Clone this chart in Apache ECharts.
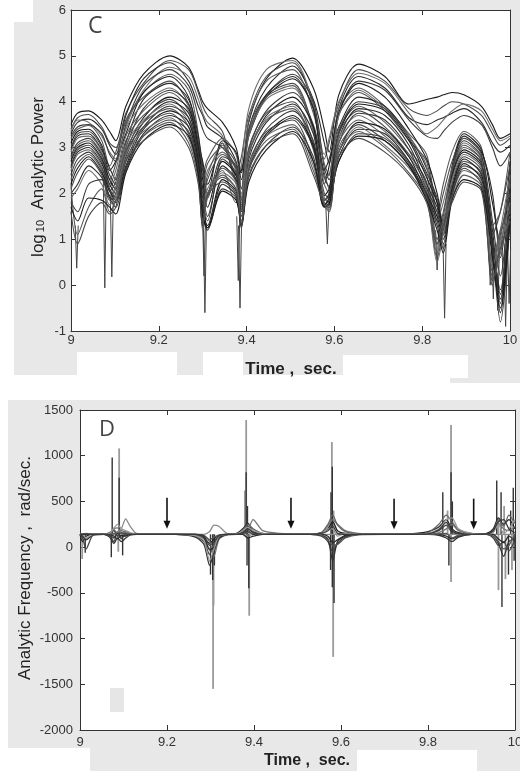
<!DOCTYPE html>
<html><head><meta charset="utf-8">
<script src="https://cdn.jsdelivr.net/npm/echarts@6/dist/echarts.min.js"></script>
<style>html,body{margin:0;padding:0;background:#fff;}#c{width:520px;height:771px;}</style>
</head><body><div id="c"></div>
<script>
// ---------- Panel C : log10 analytic power ----------
const timeC = [9.000, 9.015, 9.040, 9.070, 9.088, 9.102,
  9.125, 9.165, 9.225, 9.268, 9.290,
  9.300, 9.311, 9.345, 9.376, 9.388,
  9.405, 9.445, 9.505, 9.552, 9.577, 9.588,
  9.610, 9.655, 9.715, 9.770, 9.810, 9.834, 9.848,
  9.868, 9.895, 9.935, 9.960, 9.978, 10.000];
const powerLines = [
  [3.50,3.75,3.80,3.60,3.35,3.15, 3.90,4.60,5.00,4.75,4.25, 4.00,3.85,3.55,3.00,2.45, 3.55,4.50,4.95,4.30,3.40,2.90, 4.15,4.82,4.55,3.95,4.05,4.10,4.15, 4.20,4.15,3.90,3.50,3.20,3.30],
  [3.40,3.65,3.72,3.45,3.10,3.00, 3.75,4.40,4.90,4.70,4.20, 3.90,3.70,3.35,2.40,2.80, 3.70,4.55,4.85,3.90,2.75,3.10, 3.95,4.70,4.45,3.85,3.70,3.80,3.90, 4.00,3.95,3.70,3.30,3.05,3.20],
  [3.30,3.55,3.62,3.40,3.05,2.85, 3.70,4.50,4.85,4.45,3.90, 3.70,3.45,3.20,2.70,2.10, 3.40,4.30,4.78,4.05,3.10,2.65, 3.85,4.55,4.30,3.65,3.50,3.60,3.65, 3.75,3.85,3.55,3.10,2.90,3.05],
  [3.35,3.60,3.55,3.25,2.90,2.75, 3.45,4.25,4.75,4.55,4.05, 3.75,3.55,3.25,2.30,2.60, 3.85,4.70,4.90,3.95,2.85,3.20, 4.00,4.62,4.40,3.75,3.30,3.45,3.60, 3.80,3.95,3.80,3.40,3.15,3.25],
  [3.25,3.45,3.50,3.30,2.85,2.70, 3.50,4.35,4.70,4.35,3.70, 3.40,3.20,3.00,2.55,1.85, 3.30,4.15,4.60,4.00,2.55,2.30, 3.75,4.45,4.25,3.60,3.25,3.20,3.35, 3.55,3.70,3.50,3.00,2.60,2.90],
  [3.20,3.40,3.48,3.15,2.60,2.90, 3.55,4.20,4.60,4.25,3.30, 2.40,2.75,3.20,2.85,2.10, 3.60,4.45,4.70,3.75,2.65,2.40, 3.85,4.30,3.90,3.30,2.85,1.60,2.20, 2.90,3.35,3.00,1.30,1.60,2.90],
  [3.10,3.35,3.40,3.05,2.50,2.70, 3.30,4.20,4.55,4.10,3.10, 2.70,2.20,3.10,2.40,2.50, 3.25,4.10,4.50,3.85,2.20,2.60, 3.75,4.40,4.10,3.40,2.75,2.00,1.30, 2.60,3.30,2.95,1.80,0.90,2.70],
  [3.00,3.30,3.35,3.00,2.30,2.65, 3.60,4.10,4.45,3.95,3.05, 2.10,2.65,3.00,2.65,1.85, 3.40,4.15,4.40,3.45,2.45,2.10, 3.70,4.20,3.80,3.15,2.70,1.50,2.00, 2.70,3.20,2.85,1.10,1.60,2.60],
  [2.95,3.25,3.30,2.95,2.55,2.30, 3.10,4.05,4.40,4.05,3.25, 2.60,2.00,3.15,2.90,2.30, 3.30,4.15,4.55,3.85,2.50,2.75, 3.45,4.10,3.90,3.25,2.55,1.80,1.10, 2.50,3.25,2.90,2.00,0.60,2.50],
  [2.90,3.20,3.25,2.90,2.20,2.50, 3.40,3.95,4.30,3.90,2.95, 2.00,2.50,2.90,2.50,1.80, 3.25,4.05,4.30,3.35,2.20,2.00, 3.70,4.25,3.85,3.25,2.60,1.40,1.80, 2.55,3.10,2.75,0.40,1.20,2.40],
  [2.80,3.10,3.20,2.85,2.40,2.20, 3.00,3.85,4.25,3.95,3.10, 2.50,1.90,2.80,2.60,1.70, 2.95,3.80,4.20,3.50,2.35,2.15, 3.35,4.00,3.85,3.20,2.45,1.90,1.20, 2.50,3.15,2.80,1.40,0.20,2.30],
  [2.75,3.05,3.15,2.80,2.15,2.35, 3.25,3.80,4.20,3.80,2.90, 1.80,2.40,3.05,2.30,2.00, 3.30,4.10,4.35,3.40,2.35,2.40, 3.40,3.90,3.55,2.95,2.40,1.00,1.60, 2.45,3.00,2.70,0.00,1.00,2.20],
  [2.70,3.00,3.10,2.75,2.30,2.10, 2.90,3.65,4.10,3.85,3.00, 2.30,1.70,2.70,2.40,1.60, 2.85,3.70,4.10,3.45,1.95,2.10, 3.30,3.95,3.80,3.15,2.35,1.80,1.30, 2.40,2.95,2.65,1.00,-0.20,2.10],
  [2.60,2.95,3.05,2.70,2.05,2.25, 3.15,3.70,4.05,3.65,2.75, 1.60,2.30,2.85,2.55,1.75, 3.00,3.75,4.00,3.10,2.00,1.90, 3.30,3.80,3.45,2.85,2.25,0.90,1.50, 2.50,3.05,2.70,0.30,1.10,2.00],
  [2.55,2.90,3.00,2.65,2.20,2.00, 2.80,3.55,4.00,3.75,2.85, 2.10,1.50,2.60,2.30,1.50, 2.75,3.55,3.95,3.30,1.85,2.00, 3.20,3.85,3.70,3.05,2.20,1.70,1.20, 2.35,2.90,2.60,1.20,-0.40,1.90],
  [2.50,2.85,2.95,2.60,1.95,2.15, 3.05,3.60,3.95,3.55,2.65, 1.45,2.10,2.50,1.80,1.90, 2.90,3.65,3.90,3.00,1.90,1.80, 3.20,3.70,3.35,2.80,2.15,0.80,1.40, 2.30,2.85,2.55,0.10,0.90,1.80],
  [2.40,2.75,2.90,2.55,2.10,1.90, 2.70,3.45,3.90,3.65,2.80, 1.90,1.40,2.75,2.45,1.65, 2.60,3.40,3.80,3.15,1.85,1.95, 3.10,3.75,3.60,2.95,2.10,1.60,1.10, 2.20,2.80,2.50,1.00,-0.10,1.70],
  [2.30,2.65,2.85,2.50,1.90,2.10, 2.95,3.55,3.85,3.45,2.55, 1.35,2.00,2.40,2.10,1.40, 2.85,3.60,3.85,2.95,1.80,1.75, 3.10,3.60,3.25,2.70,2.05,0.70,1.30, 2.15,2.70,2.45,0.50,1.20,1.60],
  [2.20,2.55,2.80,2.45,2.05,1.85, 2.60,3.40,3.80,3.55,2.70, 1.70,1.30,2.30,2.05,1.35, 2.55,3.30,3.70,3.05,1.75,1.90, 2.90,3.55,3.40,2.80,2.00,1.50,1.00, 2.10,2.75,2.40,0.80,-0.60,1.55],
  [2.10,2.45,2.75,2.40,1.85,2.00, 2.90,3.45,3.75,3.30,2.45, 1.30,1.95,2.55,2.25,1.30, 2.65,3.35,3.60,2.70,1.70,1.70, 3.00,3.50,3.15,2.60,1.95,0.60,1.20, 2.00,2.60,2.35,0.20,0.80,1.50],
  [2.00,2.20,2.60,2.35,1.95,1.80, 2.55,3.30,3.70,3.45,2.60, 1.60,1.25,2.20,1.95,1.30, 2.50,3.25,3.65,3.00,1.75,1.85, 2.80,3.40,3.30,2.70,1.95,1.40,0.90, 2.05,2.65,2.30,0.90,-0.30,1.45],
  [1.90,2.10,2.50,2.20,1.75,1.95, 2.85,3.35,3.65,3.20,2.35, 1.20,1.90,2.45,2.20,1.28, 2.60,3.25,3.50,2.60,1.72,1.65, 2.90,3.45,3.05,2.55,1.90,0.50,1.10, 1.95,2.50,2.25,0.40,1.00,1.40],
  [1.80,1.60,2.20,2.30,1.90,1.70, 2.50,3.25,3.60,3.35,2.50, 1.55,1.20,2.10,1.90,1.25, 2.35,3.05,3.45,2.80,1.70,1.80, 2.70,3.30,3.20,2.65,1.90,1.30,0.80, 1.95,2.55,2.20,0.70,-0.80,1.40],
  [2.20,1.10,1.70,2.10,1.60,1.85, 2.75,3.25,3.55,3.10,2.30, 1.25,2.00,2.35,2.10,1.30, 2.50,3.15,3.40,2.50,1.75,1.60, 2.90,3.35,3.00,2.45,1.90,1.00,1.40, 1.90,2.40,2.15,0.00,0.70,1.50],
  [1.70,1.40,1.90,1.85,1.70,1.55, 2.45,3.15,3.50,3.25,2.40, 1.50,1.25,2.05,1.85,1.30, 2.25,2.95,3.35,2.70,1.72,1.75, 2.70,3.25,3.15,2.60,1.85,1.20,0.70, 1.85,2.30,2.10,0.60,-0.50,1.45],
  [1.60,0.90,1.50,1.80,1.55,1.70, 2.70,3.15,3.45,3.00,2.20, 1.30,1.95,2.25,2.00,1.30, 2.40,3.05,3.30,2.40,1.75,1.70, 2.80,3.20,2.90,2.40,1.80,0.90,1.30, 1.80,2.25,2.05,0.10,0.80,1.40]
];
// deep null dips: time, upper end, lowest value
const dipT      = [9.013, 9.077, 9.093, 9.303, 9.305, 9.381, 9.385, 9.584, 9.834, 9.851, 9.955, 9.962, 9.972, 9.985, 9.990, 9.998];
const dipTop    = [1.30, 2.30, 1.90, 1.50, 1.30, 1.50, 1.30, 1.70, 1.20, 0.90, 1.00, 0.80, 0.60, 0.90, 0.50, 0.80];
const dipBottom = [0.37, -0.06, 0.18, 0.20, -0.60, 0.10, -0.50, 0.90, 0.33, -0.72, 0.00, -0.30, -0.55, -0.10, -0.90, -0.40];

// ---------- Panel D : analytic frequency ----------
const timeD = [9.000, 9.006, 9.014, 9.030, 9.055, 9.068, 9.078, 9.086, 9.095, 9.105,
  9.115, 9.130, 9.160, 9.220, 9.265, 9.285, 9.298, 9.308, 9.320, 9.340,
  9.360, 9.374, 9.386, 9.398, 9.420, 9.460, 9.530, 9.555, 9.570, 9.581,
  9.592, 9.610, 9.640, 9.700, 9.760, 9.800, 9.825, 9.842, 9.855, 9.870,
  9.900, 9.935, 9.950, 9.962, 9.974, 9.986, 10.000];
const freqLines = [
  [140,60,120,140,140,150,180,120,160,140, 140,140,140,140,130,100,40,90,130,140, 150,200,260,170,145,140,140,160,200,280, 180,150,140,140,145,170,220,300,200,160, 140,150,200,320,250,300,200],
  [140,100,-20,130,140,130,60,170,90,150, 140,140,140,140,120,60,-80,40,110,140, 145,170,230,160,140,140,140,120,60,-50, 40,110,140,140,140,150,180,240,160,145, 140,140,100,20,60,-40,80],
  [140,130,90,140,140,145,200,210,150,170, 150,140,140,140,140,120,60,-100,90,135, 140,160,190,300,180,150,140,150,230,300, 250,180,150,140,140,140,160,200,250,180, 145,145,180,260,200,180,230],
  [140,140,140,140,140,140,140,160,200,310, 230,150,140,140,140,140,170,240,225,145, 140,140,120,140,140,140,140,140,140,140, 140,140,140,140,140,140,140,140,140,140, 140,140,140,140,140,140,140],
  [140,120,80,135,140,110,40,100,60,100, 130,140,140,140,110,30,-200,-50,100,140, 140,150,180,140,140,140,140,130,90,-150, 60,120,140,140,140,140,130,100,60,110, 140,140,120,40,-100,60,100],
  [140,140,150,140,140,160,190,150,180,160, 145,140,140,140,135,90,-20,20,120,140, 140,180,250,200,150,140,140,160,250,350, 240,170,145,140,140,160,250,350,280,190, 150,140,170,300,230,350,260],
  [140,145,140,140,140,140,120,90,130,120, 140,140,140,140,140,110,-30,0,110,140, 140,140,100,120,140,140,140,140,120,50, 80,130,140,140,140,140,140,120,90,120, 140,140,140,90,50,120,60],
  [140,140,100,140,140,150,210,250,200,180, 160,140,140,140,125,70,-150,-20,120,140, 145,180,220,180,150,140,140,145,200,200, 120,150,140,140,140,150,200,300,320,200, 150,140,160,250,150,200,300],
  [140,140,140,140,140,140,150,130,150,140, 140,140,140,140,140,130,80,110,135,140, 140,150,160,150,140,140,140,130,80,20, 30,100,135,140,140,140,145,150,100,130, 140,140,120,60,-20,20,150],
  [140,140,140,140,140,135,100,150,110,130, 140,140,140,140,140,120,20,60,125,140, 140,160,200,160,140,140,140,150,180,230, 150,140,140,140,140,145,190,270,180,150, 140,145,180,280,300,200,160]
];
const baseFreq = 140;
const spikeDarkT = [9.012, 9.074, 9.090, 9.072, 9.098, 9.305, 9.300, 9.309, 9.382, 9.385, 9.388, 9.384, 9.580, 9.577, 9.584, 9.580, 9.576, 9.853, 9.834, 9.856, 9.848, 9.958, 9.968, 9.970, 9.985, 9.990, 9.996, 9.998];
const spikeDarkV = [-60, 980, 760, -110, -90, -360, -300, -200, 820, 450, -450, -200, 880, 600, -610, -440, -250, 820, 600, 500, -200, 730, 600, -656, -300, 400, 650, -150];
const spikeLightT = [9.005, 9.090, 9.088, 9.306, 9.307, 9.382, 9.379, 9.389, 9.579, 9.583, 9.582, 9.853, 9.845, 9.853, 9.975, 9.962, 9.962, 9.978, 9.993];
const spikeLightV = [-130, 1080, -50, -1550, -640, 1390, 620, -750, 1150, 400, -1200, 1335, 400, -380, 450, 300, -470, -350, -250];
const arrowT = [9.200, 9.485, 9.722, 9.905];
const arrowTop = [540, 540, 530, 530];
const arrowTip = [200, 200, 195, 195];

// ---------- axes ----------
const xTicks = [9, 9.2, 9.4, 9.6, 9.8, 10];
const yTicksC = [-1, 0, 1, 2, 3, 4, 5, 6];
const yTicksD = [-2000, -1500, -1000, -500, 0, 500, 1000, 1500];

const FONT = 'Liberation Sans, Arial, sans-serif';
const chart = echarts.init(document.getElementById('c'), null, {renderer: 'canvas'});

function xAx(grid, pos, show, margin) {
  return {
    type: 'value', gridIndex: grid, position: pos,
    min: xTicks[0], max: xTicks[xTicks.length - 1], interval: xTicks[1] - xTicks[0],
    axisLine: {show: true, onZero: false, lineStyle: {color: '#333', width: 1}},
    axisTick: {show: true, inside: true, length: 5, lineStyle: {color: '#333'}},
    axisLabel: {show: show, margin: margin, fontSize: 13, color: '#333', fontFamily: FONT,
      formatter: v => String(Math.round(v * 10) / 10)},
    splitLine: {show: false}
  };
}
function yAx(grid, pos, show, ticks, margin) {
  return {
    type: 'value', gridIndex: grid, position: pos,
    min: ticks[0], max: ticks[ticks.length - 1], interval: ticks[1] - ticks[0],
    axisLine: {show: true, onZero: false, lineStyle: {color: '#333', width: 1}},
    axisTick: {show: true, inside: true, length: 5, lineStyle: {color: '#333'}},
    axisLabel: {show: show, margin: margin, fontSize: 13, color: '#333', fontFamily: FONT,
      formatter: v => String(Math.round(v))},
    splitLine: {show: false}
  };
}

const paletteC = ['#1a1a1a', '#4a4a4a', '#2a2a2a', '#6e6e6e', '#3a3a3a', '#595959'];
const paletteD = ['#222', '#444', '#777', '#8a8a8a', '#333', '#666', '#2a2a2a', '#999', '#555', '#3a3a3a'];

const series = [];
powerLines.forEach((vals, k) => {
  series.push({
    type: 'line', xAxisIndex: 0, yAxisIndex: 0, silent: true,
    data: timeC.map((t, i) => [t, vals[i]]),
    smooth: 0.3, showSymbol: false, symbol: 'none',
    lineStyle: {width: 1.1, color: paletteC[k % paletteC.length]}
  });
});
series.push({
  type: 'custom', xAxisIndex: 0, yAxisIndex: 0, silent: true,
  data: dipT.map((t, i) => [t, dipTop[i], dipBottom[i]]),
  encode: {x: 0, y: [1, 2]},
  renderItem: (params, api) => {
    const a = api.coord([api.value(0), api.value(1)]);
    const b = api.coord([api.value(0), api.value(2)]);
    return {type: 'polyline', shape: {points: [[a[0] - 1.5, a[1]], [b[0], b[1]], [a[0] + 1.5, a[1]]]},
      style: {stroke: '#444', lineWidth: 1, fill: null}};
  }
});
freqLines.forEach((vals, k) => {
  series.push({
    type: 'line', xAxisIndex: 2, yAxisIndex: 2, silent: true,
    data: timeD.map((t, i) => [t, vals[i]]),
    smooth: 0.25, showSymbol: false, symbol: 'none',
    lineStyle: {width: 1.3, color: paletteD[k % paletteD.length]}
  });
});
function spikeSeries(T, V, color, w) {
  return {
    type: 'custom', xAxisIndex: 2, yAxisIndex: 2, silent: true,
    data: T.map((t, i) => [t, baseFreq, V[i]]),
    encode: {x: 0, y: [1, 2]},
    renderItem: (params, api) => {
      const a = api.coord([api.value(0), api.value(1)]);
      const b = api.coord([api.value(0), api.value(2)]);
      return {type: 'line', shape: {x1: a[0], y1: a[1], x2: b[0], y2: b[1]}, style: {stroke: color, lineWidth: w}};
    }
  };
}
series.push(spikeSeries(spikeLightT, spikeLightV, '#9a9a9a', 1.8));
series.push(spikeSeries(spikeDarkT, spikeDarkV, '#333', 1.4));
series.push({
  type: 'custom', xAxisIndex: 2, yAxisIndex: 2, silent: true,
  data: arrowT.map((t, i) => [t, arrowTop[i], arrowTip[i]]),
  encode: {x: 0, y: [1, 2]},
  renderItem: (params, api) => {
    const a = api.coord([api.value(0), api.value(1)]);
    const b = api.coord([api.value(0), api.value(2)]);
    return {type: 'group', children: [
      {type: 'line', shape: {x1: a[0], y1: a[1], x2: b[0], y2: b[1] - 6}, style: {stroke: '#111', lineWidth: 1.6}},
      {type: 'polygon', shape: {points: [[b[0] - 3.5, b[1] - 8], [b[0] + 3.5, b[1] - 8], [b[0], b[1]]]}, style: {fill: '#111'}}
    ]};
  }
});

const GRAY = '#e8e8e8';
const graphic = [
  {type: 'rect', z: -10, shape: {x: 33, y: 0, width: 487, height: 22}, style: {fill: GRAY}},
  {type: 'rect', z: -10, shape: {x: 14, y: 22, width: 506, height: 353}, style: {fill: GRAY}},
  {type: 'rect', z: -10, shape: {x: 450, y: 375, width: 70, height: 8}, style: {fill: GRAY}},
  {type: 'rect', z: -10, shape: {x: 8, y: 400, width: 512, height: 348}, style: {fill: GRAY}},
  {type: 'rect', z: -10, shape: {x: 90, y: 748, width: 430, height: 23}, style: {fill: GRAY}},
  {type: 'rect', z: -9, shape: {x: 77, y: 352, width: 100, height: 26}, style: {fill: '#fff'}},
  {type: 'rect', z: -9, shape: {x: 203, y: 352, width: 40, height: 26}, style: {fill: '#fff'}},
  {type: 'rect', z: -9, shape: {x: 343, y: 355, width: 125, height: 23}, style: {fill: '#fff'}},
  {type: 'rect', z: -9, shape: {x: 357, y: 750, width: 120, height: 21}, style: {fill: '#fff'}},
  {type: 'rect', z: -9, shape: {x: 71, y: 10, width: 439, height: 321}, style: {fill: '#fff'}},
  {type: 'rect', z: -9, shape: {x: 80, y: 410, width: 435, height: 320}, style: {fill: '#fff'}},
  {type: 'rect', z: -8, shape: {x: 110, y: 688, width: 14, height: 24}, style: {fill: '#e6e6e6'}},
  {type: 'text', z: 10, x: 88, y: 15, style: {text: 'C', fontSize: 23, fontFamily: 'Open Sans, Noto Sans, sans-serif', fill: '#444'}},
  {type: 'text', z: 10, x: 99, y: 419, style: {text: 'D', fontSize: 22, fontFamily: 'Open Sans, Noto Sans, sans-serif', fill: '#444'}},
  {type: 'text', z: 10, x: 38, y: 177, rotation: Math.PI / 2,
    style: {text: '{a|log}{b|10}{a|  Analytic Power}', align: 'center', verticalAlign: 'middle',
      rich: {a: {fontSize: 17, fontFamily: FONT, fill: '#222'}, b: {fontSize: 11, fontFamily: FONT, fill: '#222', verticalAlign: 'bottom', padding: [0, 1, 0, 2]}}}},
  {type: 'text', z: 10, x: 291, y: 369,
    style: {text: 'Time ,  sec.', align: 'center', verticalAlign: 'middle', fontSize: 17, fontWeight: 'bold', fontFamily: FONT, fill: '#222'}},
  {type: 'text', z: 10, x: 25, y: 568, rotation: Math.PI / 2,
    style: {text: 'Analytic Frequency ,  rad/sec.', align: 'center', verticalAlign: 'middle', fontSize: 17, fontFamily: FONT, fill: '#222'}},
  {type: 'text', z: 10, x: 307, y: 761,
    style: {text: 'Time ,  sec.', align: 'center', verticalAlign: 'middle', fontSize: 16, fontWeight: 'bold', fontFamily: FONT, fill: '#222'}}
];

chart.setOption({
  animation: false,
  backgroundColor: '#fff',
  grid: [
    {left: 71, top: 10, width: 439, height: 321, containLabel: false, outerBoundsMode: 'none'},
    {left: 80, top: 410, width: 435, height: 320, containLabel: false, outerBoundsMode: 'none'}
  ],
  xAxis: [xAx(0, 'bottom', true, 3), xAx(0, 'top', false, 3), xAx(1, 'bottom', true, 6), xAx(1, 'top', false, 6)],
  yAxis: [yAx(0, 'left', true, yTicksC, 5), yAx(0, 'right', false, yTicksC, 5), yAx(1, 'left', true, yTicksD, 7), yAx(1, 'right', false, yTicksD, 7)],
  graphic: graphic,
  series: series
});
</script>
</body></html>
